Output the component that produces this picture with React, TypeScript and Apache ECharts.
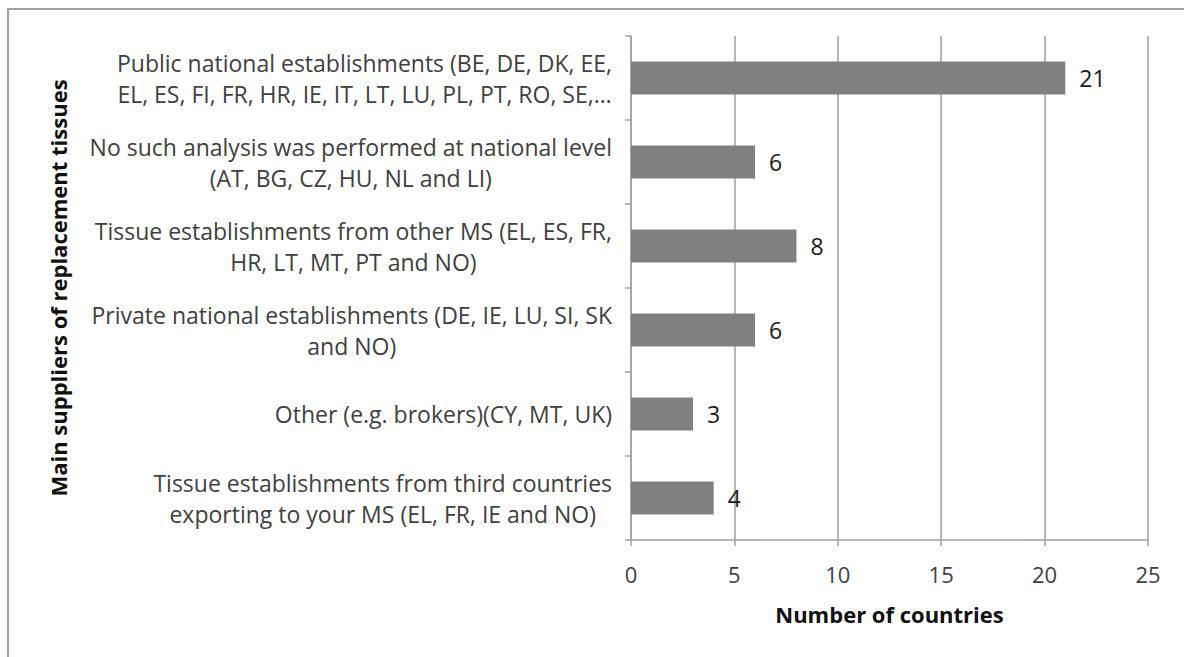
import React, { useEffect, useRef } from "react";
import * as echarts from "echarts";

const categories = [
  "Public national establishments (BE, DE, DK, EE,\nEL, ES, FI, FR, HR, IE, IT, LT, LU, PL, PT, RO, SE,…",
  "No such analysis was performed at national level\n(AT, BG, CZ, HU, NL and LI)",
  "Tissue establishments from other MS (EL, ES, FR,\nHR, LT, MT, PT and NO)",
  "Private national establishments (DE, IE, LU, SI, SK\nand NO)",
  "Other (e.g. brokers)(CY, MT, UK)",
  "Tissue establishments from third countries\nexporting to your MS (EL, FR, IE and NO)",
];
const values = [21, 6, 8, 6, 3, 4];
const xMin = 0;
const xMax = 25;
const xInterval = 5;
const xAxisTitle = "Number of countries";
const yAxisTitle = "Main suppliers of replacement tissues";

const FONT = "'Open Sans', 'Noto Sans', sans-serif";
const GRID = "#a0a0a0";

export default function App() {
  const ref = useRef<HTMLDivElement>(null);
  useEffect(() => {
    if (!ref.current) return;
    const chart = echarts.init(ref.current, null, { renderer: "svg" });
    chart.setOption({
      animation: false,
      textStyle: { fontFamily: FONT },
      graphic: [
        {
          type: "rect",
          silent: true,
          z: -10,
          shape: { x: 8, y: 9, width: 1300, height: 800 },
          style: { fill: "none", stroke: "#a0a0a0", lineWidth: 2 },
        },
      ],
      grid: { left: 631, right: 36, top: 36, bottom: 117 },
      xAxis: {
        type: "value",
        min: xMin,
        max: xMax,
        interval: xInterval,
        axisLine: { show: true, lineStyle: { color: GRID, width: 1.5 } },
        axisTick: { show: true, length: 6, lineStyle: { color: GRID, width: 1.5 } },
        splitLine: { show: true, lineStyle: { color: GRID, width: 1.5 } },
        axisLabel: { margin: 23, fontSize: 22, color: "#404040", fontFamily: FONT },
        name: xAxisTitle,
        nameLocation: "middle",
        nameGap: 63,
        nameTextStyle: { fontWeight: "bold", fontSize: 22, color: "#111", fontFamily: FONT },
      },
      yAxis: {
        type: "category",
        inverse: true,
        data: categories,
        axisLine: { show: true, lineStyle: { color: GRID, width: 1.5 } },
        axisTick: { show: true, length: 6, lineStyle: { color: GRID, width: 1.5 } },
        axisLabel: {
          margin: 19,
          fontFamily: FONT,
          formatter: (v: string) =>
            v
              .split("\n")
              .map((l) => `{c|${l}}`)
              .join("\n"),
          rich: {
            c: { align: "center", fontSize: 23, lineHeight: 31, color: "#404040", fontFamily: FONT },
          },
        },
        name: yAxisTitle,
        nameLocation: "middle",
        nameGap: 562,
        nameRotate: 90,
        nameTextStyle: { fontWeight: "bold", fontSize: 22, color: "#111", fontFamily: FONT },
      },
      series: [
        {
          type: "bar",
          data: values,
          barWidth: 33,
          itemStyle: { color: "#808080" },
          label: {
            show: true,
            position: "right",
            distance: 14,
            fontSize: 23,
            color: "#1a1a1a",
            fontFamily: FONT,
          },
        },
      ],
    });
    return () => chart.dispose();
  }, []);
  return (
    <div
      ref={ref}
      style={{ position: "absolute", left: 0, top: 0, width: 1184, height: 657, background: "#fff" }}
    />
  );
}
